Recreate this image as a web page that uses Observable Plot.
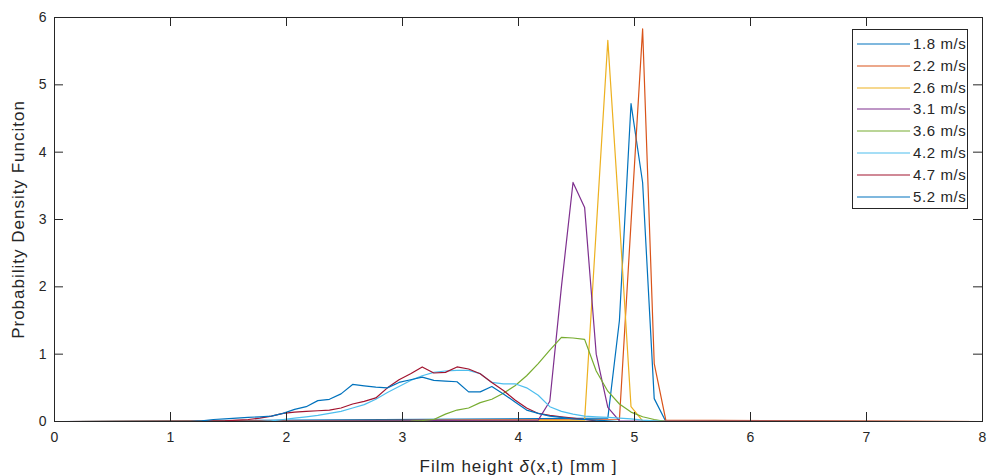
<!DOCTYPE html>
<html><head><meta charset="utf-8">
<script src="https://cdn.jsdelivr.net/npm/d3@7"></script>
<script src="https://cdn.jsdelivr.net/npm/@observablehq/plot@0.6"></script>
<style>
body{margin:0;background:#fff;}
#wrap{position:relative;width:989px;height:475px;font-family:"Liberation Sans",Arial,sans-serif;color:#262626;}
#legend{position:absolute;left:852px;top:29px;width:114px;height:178px;border:1px solid #262626;background:#fff;}
#legend .row{position:absolute;left:0;height:20px;width:114px;}
#legend .row svg{position:absolute;left:4px;top:0;}
#legend .row span{position:absolute;left:60px;top:1px;font-size:15px;letter-spacing:0.6px;line-height:18px;white-space:nowrap;}
</style></head>
<body><div id="wrap"></div>
<script>
// ---- data ----
const seriesLabels = ["1.8 m/s","2.2 m/s","2.6 m/s","3.1 m/s","3.6 m/s","4.2 m/s","4.7 m/s","5.2 m/s"];
const seriesColors = ["#0072BD","#D95319","#EDB120","#7E2F8E","#77AC30","#4DBEEE","#A2142F","#0072BD"];
const xTicks = [0,1,2,3,4,5,6,7,8];
const yTicks = [0,1,2,3,4,5,6];
const yTitle = "Probability Density Funciton";
const xTitle = "Film height δ(x,t) [mm ]";

const s18x = [0.07,4.77,4.87,4.97,5.07,5.17,5.27,7.97];
const s18y = [0,0.05,1.5,4.72,3.55,0.34,0,0];

const s22x = [0.07,4.87,4.97,5.07,5.17,5.27,7.97];
const s22y = [0,0.03,2.95,5.83,0.86,0.02,0];

const s26x = [0.07,4.57,4.67,4.77,4.87,4.97,5.07,7.97];
const s26y = [0,0.02,2.85,5.66,3.0,0.22,0.01,0];

const s31x = [0.07,4.17,4.27,4.37,4.47,4.57,4.67,4.77,4.87,7.97];
const s31y = [0,0.02,0.3,2.0,3.55,3.18,1.0,0.21,0.01,0];

const s36x = [0.07,3.07,3.17,3.27,3.37,3.47,3.57,3.67,3.77,3.87,3.97,4.07,4.17,4.27,4.37,4.47,4.57,4.67,4.77,4.87,4.97,5.07,5.17,5.27,7.97];
const s36y = [0,0.005,0.015,0.03,0.11,0.17,0.2,0.28,0.33,0.42,0.53,0.68,0.86,1.06,1.25,1.24,1.22,0.75,0.45,0.26,0.14,0.07,0.03,0,0];

const s42x = [0.07,1.77,1.87,1.97,2.07,2.17,2.27,2.37,2.47,2.57,2.67,2.77,2.87,2.97,3.07,3.17,3.27,3.37,3.47,3.57,3.67,3.77,3.87,3.97,4.07,4.17,4.27,4.37,4.47,4.57,4.67,4.77,4.87,4.97,5.07,5.17,5.27,7.97];
const s42y = [0,0,0.01,0.03,0.05,0.07,0.09,0.12,0.15,0.2,0.25,0.33,0.43,0.52,0.61,0.68,0.73,0.75,0.76,0.76,0.71,0.58,0.56,0.56,0.5,0.39,0.22,0.15,0.11,0.08,0.07,0.06,0.05,0.04,0.02,0.01,0,0];

const s47x = [0.07,1.27,1.37,1.47,1.57,1.67,1.77,1.87,1.97,2.07,2.17,2.27,2.37,2.47,2.57,2.67,2.77,2.87,2.97,3.07,3.17,3.27,3.37,3.47,3.57,3.67,3.77,3.87,3.97,4.07,4.17,4.27,4.37,4.47,4.57,4.67,4.77,7.97];
const s47y = [0,0,0.005,0.01,0.02,0.03,0.05,0.08,0.12,0.14,0.15,0.16,0.17,0.2,0.26,0.3,0.35,0.5,0.62,0.71,0.81,0.72,0.73,0.81,0.78,0.71,0.58,0.46,0.32,0.2,0.12,0.09,0.07,0.05,0.03,0.01,0,0];

const s52x = [0.07,1.17,1.27,1.37,1.47,1.57,1.67,1.77,1.87,1.97,2.07,2.17,2.27,2.37,2.47,2.57,2.67,2.77,2.87,2.97,3.07,3.17,3.27,3.37,3.47,3.57,3.67,3.77,3.87,3.97,4.07,4.17,4.27,4.37,4.47,4.57,4.67,4.77,4.87,7.97];
const s52y = [0,0,0.01,0.03,0.04,0.05,0.06,0.07,0.08,0.12,0.18,0.22,0.31,0.33,0.41,0.55,0.53,0.51,0.5,0.58,0.62,0.66,0.61,0.6,0.59,0.44,0.44,0.52,0.41,0.29,0.17,0.12,0.08,0.06,0.04,0.03,0.02,0.01,0,0];

const seriesX = [s18x,s22x,s26x,s31x,s36x,s42x,s47x,s52x];
const seriesY = [s18y,s22y,s26y,s31y,s36y,s42y,s47y,s52y];

const rows = [];
seriesLabels.forEach((lab, i) => {
  seriesX[i].forEach((x, j) => rows.push({series: lab, x, y: seriesY[i][j]}));
});

const ink = "#262626";
const chart = Plot.plot({
  width: 989, height: 475,
  marginLeft: 54, marginRight: 7, marginTop: 17, marginBottom: 54,
  style: {fontFamily: '"Liberation Sans", Arial, sans-serif', fontSize: "14px", color: ink, background: "#fff", overflow: "visible"},
  x: {domain: [0, 8]},
  y: {domain: [0, 6]},
  color: {domain: seriesLabels, range: seriesColors},
  marks: [
    Plot.line(rows, {x: "x", y: "y", z: "series", stroke: "series", strokeWidth: 1.2}),
    Plot.frame({stroke: ink, strokeWidth: 1}),
    Plot.ruleX(xTicks, {x: d => d, y1: 0, y2: 0, insetTop: -9, stroke: ink}),
    Plot.ruleX(xTicks, {x: d => d, y1: 6, y2: 6, insetBottom: -9, stroke: ink}),
    Plot.ruleY(yTicks, {y: d => d, x1: 0, x2: 0, insetRight: -9, stroke: ink}),
    Plot.ruleY(yTicks, {y: d => d, x1: 8, x2: 8, insetLeft: -9, stroke: ink}),
    Plot.axisX({ticks: xTicks, tickSize: 0, tickPadding: 11, label: null, fontSize: 14, tickFormat: d => String(d)}),
    Plot.axisY({ticks: yTicks, tickSize: 0, tickPadding: 8, label: null, fontSize: 14, tickFormat: d => String(d)}),
    Plot.text([yTitle], {text: d => d, frameAnchor: "left", dx: -36, rotate: -90, textAnchor: "middle", lineAnchor: "middle", fontSize: 17, fill: ink}),
    Plot.text([xTitle], {text: d => d, frameAnchor: "bottom", dy: 45, textAnchor: "middle", lineAnchor: "middle", fontSize: 17, fill: ink})
  ]
});

// spacing for titles, italic delta in the x title
const ns = "http://www.w3.org/2000/svg";
chart.querySelectorAll("text").forEach(t => {
  const s = t.textContent;
  if (s === yTitle) t.style.letterSpacing = "1px";
  if (s === xTitle) {
    t.style.letterSpacing = "1px";
    const k = s.indexOf("δ");
    t.textContent = "";
    const a = document.createElementNS(ns, "tspan"); a.textContent = s.slice(0, k);
    const b = document.createElementNS(ns, "tspan"); b.textContent = "δ"; b.setAttribute("font-style", "italic");
    const c = document.createElementNS(ns, "tspan"); c.textContent = s.slice(k + 1);
    t.append(a, b, c);
  }
});

const wrap = document.getElementById("wrap");
wrap.appendChild(chart);

// legend
const legend = d3.select(wrap).append("div").attr("id", "legend");
seriesLabels.forEach((lab, i) => {
  const row = legend.append("div").attr("class", "row").style("top", (4 + i * 21.8) + "px");
  row.append("svg").attr("width", 54).attr("height", 20)
    .append("line").attr("x1", 0).attr("x2", 53).attr("y1", 10).attr("y2", 10)
    .attr("stroke", seriesColors[i]).attr("stroke-width", 1.2);
  row.append("span").text(lab);
});
</script></body></html>
